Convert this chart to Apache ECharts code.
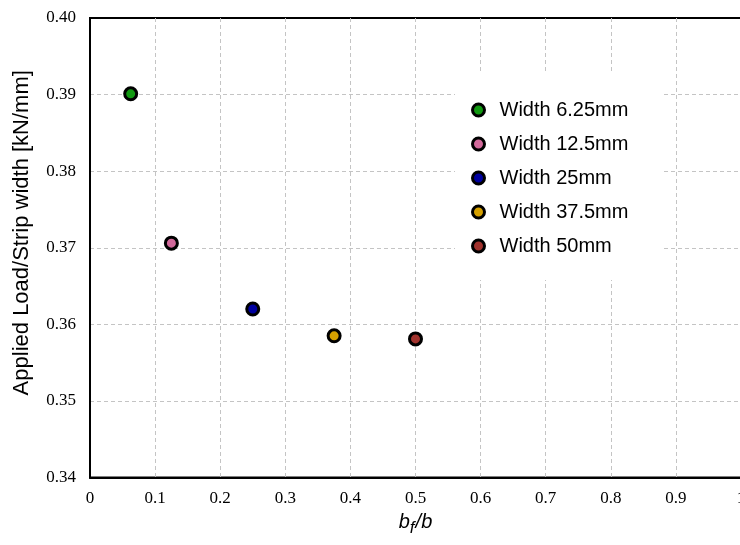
<!DOCTYPE html>
<html>
<head>
<meta charset="utf-8">
<script src="https://cdn.jsdelivr.net/npm/echarts@6/dist/echarts.min.js"></script>
<style>
html,body{margin:0;padding:0;background:#fff;}
#chart{width:740px;height:545px;}
</style>
</head>
<body>
<div id="chart"></div>
<script>
// Data
const seriesNames = ['Width 6.25mm', 'Width 12.5mm', 'Width 25mm', 'Width 37.5mm', 'Width 50mm'];
const xValues = [0.0625, 0.125, 0.25, 0.375, 0.5];
const yValues = [0.3901, 0.3706, 0.3620, 0.3585, 0.3581];
const seriesColors = ['#119911', '#d2699b', '#0000a0', '#d5a000', '#a0322d'];
const xTicks = [0, 0.1, 0.2, 0.3, 0.4, 0.5, 0.6, 0.7, 0.8, 0.9, 1];
const yTicks = [0.34, 0.35, 0.36, 0.37, 0.38, 0.39, 0.40];

const chart = echarts.init(document.getElementById('chart'), null, {renderer: 'canvas'});

const gridLine = {show: true, showMinLine: false, showMaxLine: false, lineStyle: {color: '#c4c4c4', width: 1, type: [4, 3]}};

const series = seriesNames.map((name, i) => ({
  name: name,
  type: 'scatter',
  data: [[xValues[i], yValues[i]]],
  symbol: 'circle',
  symbolSize: 12,
  itemStyle: {color: seriesColors[i], borderColor: '#000', borderWidth: 3, opacity: 1},
  emphasis: {disabled: true},
  z: 5
}));

chart.setOption({
  animation: false,
  backgroundColor: '#fff',
  grid: {
    left: 90, top: 18, width: 651, height: 459.5,
    containLabel: false,
    outerBoundsMode: 'none',
    show: true, borderColor: '#000', borderWidth: 2, backgroundColor: 'transparent'
  },
  xAxis: {
    type: 'value',
    min: xTicks[0], max: xTicks[xTicks.length - 1], interval: 0.1,
    axisLine: {show: true, lineStyle: {color: '#000', width: 2}},
    axisTick: {show: false},
    splitLine: gridLine,
    axisLabel: {
      margin: 13,
      color: '#000',
      fontFamily: 'Liberation Serif',
      fontSize: 17,
      hideOverlap: false,
      formatter: v => (v === 0 || v === 1) ? String(v) : v.toFixed(1)
    },
    name: '{b|b}{f|f}{b|/b}',
    nameLocation: 'middle',
    nameGap: 32,
    nameTextStyle: {
      rich: {
        b: {fontFamily: 'Liberation Sans', fontStyle: 'italic', fontSize: 20, color: '#000', verticalAlign: 'bottom', padding: [0, 0, 4, 0]},
        f: {fontFamily: 'Liberation Sans', fontStyle: 'italic', fontSize: 17, color: '#000', verticalAlign: 'bottom', padding: [0, 1, 0, 0]}
      }
    }
  },
  yAxis: {
    type: 'value',
    min: yTicks[0], max: yTicks[yTicks.length - 1], interval: 0.01,
    axisLine: {show: true, lineStyle: {color: '#000', width: 2}},
    axisTick: {show: false},
    splitLine: gridLine,
    axisLabel: {
      margin: 14,
      color: '#000',
      fontFamily: 'Liberation Serif',
      fontSize: 17,
      formatter: v => v.toFixed(2)
    },
    name: 'Applied Load/Strip width [kN/mm]',
    nameLocation: 'middle',
    nameRotate: 90,
    nameGap: 57,
    nameTextStyle: {
      fontFamily: 'Liberation Sans',
      fontSize: 22,
      color: '#000',
      padding: [0, 0, 0, 30]
    }
  },
  legend: {
    orient: 'vertical',
    left: 455,
    top: 72,
    padding: [28, 34, 24, 16],
    backgroundColor: '#fff',
    itemWidth: 30,
    itemHeight: 12,
    itemGap: 14,
    icon: 'circle',
    itemStyle: {borderColor: '#000', borderWidth: 3},
    selectedMode: false,
    textStyle: {fontFamily: 'Liberation Sans', fontSize: 20, lineHeight: 20, color: '#000', padding: [0, 0, 0, 1]},
    data: seriesNames,
    z: 4
  },
  series: series
});
</script>
</body>
</html>
